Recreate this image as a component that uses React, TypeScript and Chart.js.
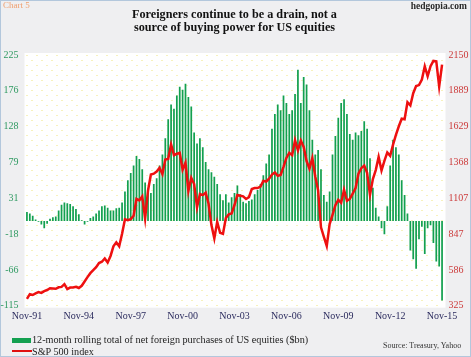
import React, { useEffect, useRef } from 'react';
import { Chart, registerables } from 'chart.js';

Chart.register(...registerables);

// ---- Data ----
const MONTHS = ['Jan', 'Feb', 'Mar', 'Apr', 'May', 'Jun', 'Jul', 'Aug', 'Sep', 'Oct', 'Nov', 'Dec'];
// bi-monthly categories from Nov-91 to Nov-15
const categories: string[] = [];
for (let k = 0; k < 145; k++) {
  const m = 10 + 2 * k;
  const yr = 1991 + Math.floor(m / 12);
  categories.push(`${MONTHS[m % 12]}-${String(yr % 100).padStart(2, '0')}`);
}

const xTickLabels = ['Nov-91', 'Nov-94', 'Nov-97', 'Nov-00', 'Nov-03', 'Nov-06', 'Nov-09', 'Nov-12', 'Nov-15'];

// 12-month rolling total of net foreign purchases of US equities ($bn)
const flows = [
  12, 10, 7, 2, -1, -5, -10, -4, 3, 5, 6, 14,
  22, 25, 24, 23, 20, 16, 9, 1, -5, -1, 4, 6,
  10, 14, 20, 21, 18, 14, 14, 17, 18, 25, 40, 55,
  65, 75, 88, 84, 70, 52, 43, 38, 50, 58, 75, 90,
  112, 138, 158, 152, 170, 182, 178, 186, 168, 155, 120, 105,
  112, 100, 80, 70, 66, 60, 50, 36, 28, 36, 25, 32,
  38, 48, 36, 26, 24, 27, 29, 36, 42, 50, 62, 78,
  90, 125, 145, 158, 150, 170, 160, 145, 150, 172, 205, 160,
  195, 185, 150, 110, 90, 96, 70, 35, 26, 40, 90, 115,
  140, 160, 165, 145, 118, 110, 120, 116, 122, 135, 125, 85,
  45, 18, 6, -10, -18, 20, 75, 110, 100, 90, 55, 35,
  10, -40, -52, -65, -25, -8, -45, -10, -6, -30, -55, -62,
  -108,
];

// S&P 500 index
const sp500 = [
  375,
  409, 403, 415, 424, 418, 431,
  439, 452, 450, 448, 459, 462,
  482, 446, 457, 458, 463, 454,
  470, 501, 533, 562, 584, 605,
  636, 645, 669, 640, 687, 757,
  786, 757, 848, 954, 947, 955,
  980, 1102, 1091, 1121, 960, 1164,
  1280, 1286, 1302, 1329, 1283, 1389,
  1394, 1499, 1421, 1431, 1437, 1315,
  1366, 1160, 1256, 1211, 1041, 1139,
  1130, 1147, 1067, 912, 815, 936,
  856, 848, 964, 990, 996, 1058,
  1131, 1126, 1121, 1102, 1115, 1174,
  1181, 1181, 1192, 1234, 1229, 1249,
  1280, 1295, 1270, 1277, 1336, 1401,
  1438, 1421, 1530, 1455, 1527, 1481,
  1378, 1323, 1400, 1267, 1166, 896,
  826, 760, 919, 987, 1057, 1096,
  1074, 1169, 1089, 1102, 1141, 1181,
  1286, 1326, 1345, 1292, 1131, 1247,
  1312, 1408, 1310, 1379, 1441, 1416,
  1498, 1569, 1631, 1686, 1682, 1806,
  1783, 1872, 1924, 1931, 1972, 2068,
  1995, 2068, 2107, 2104, 1920, 2080,
];

const leftTickLabels = ['-115', '-66', '-18', '31', '79', '128', '176', '225'];
const rightTickLabels = ['325', '586', '847', '1107', '1368', '1629', '1889', '2150'];
const LEFT_MIN = -115;
const LEFT_MAX = 225;
const RIGHT_MIN = 325;
const RIGHT_MAX = 2150;

const SERIF = '"Liberation Serif", "Times New Roman", serif';

const plotBg = {
  id: 'plotBg',
  beforeDraw(chart: any) {
    const { ctx, chartArea } = chart;
    const l = chartArea.left - 1;
    const t = chartArea.top - 2;
    const r = chartArea.right + 2;
    const b = chartArea.bottom + 2;
    ctx.save();
    ctx.fillStyle = '#ffffff';
    ctx.fillRect(l, t, r - l, b - t);
    ctx.fillStyle = '#efe57a';
    let row = 0;
    for (let y = t + 2; y < b; y += 5, row++) {
      for (let x = l + 2 + (row % 2) * 5; x < r; x += 10) {
        ctx.fillRect(x, y, 1, 1);
      }
    }
    ctx.restore();
  },
};

function evenTicks(min: number, max: number, n: number) {
  return Array.from({ length: n }, (_, k) => ({ value: min + (k * (max - min)) / (n - 1) }));
}

export default function App() {
  const ref = useRef<HTMLCanvasElement | null>(null);

  useEffect(() => {
    if (!ref.current) return;
    const chart = new Chart(ref.current, {
      type: 'bar',
      data: {
        labels: categories,
        datasets: [
          {
            type: 'line',
            label: 'S&P 500 index',
            data: sp500,
            yAxisID: 'y1',
            borderColor: '#ee1010',
            borderWidth: 2.5,
            pointRadius: 0,
            tension: 0,
            order: 0,
          } as any,
          {
            type: 'bar',
            label: '12-month rolling total of net foreign purchases of US equities ($bn)',
            data: flows,
            yAxisID: 'y',
            backgroundColor: '#13a050',
            borderWidth: 0,
            barPercentage: 0.6,
            categoryPercentage: 1,
            order: 1,
          },
        ],
      },
      options: {
        responsive: false,
        devicePixelRatio: 1,
        animation: false,
        layout: { padding: { top: 55, bottom: 0, left: 0, right: 0 } },
        plugins: { legend: { display: false }, tooltip: { enabled: false }, title: { display: false } },
        scales: {
          x: {
            type: 'category',
            offset: true,
            grid: { display: false, drawTicks: false },
            border: { display: false },
            ticks: {
              autoSkip: false,
              maxRotation: 0,
              minRotation: 0,
              padding: 5,
              color: '#2b2b5e',
              font: { family: SERIF, size: 10 },
              callback: (_v: any, idx: number) => {
                const lab = categories[idx];
                return xTickLabels.includes(lab) ? lab : null;
              },
            },
            afterFit: (scale: any) => {
              scale.height = 51.3;
            },
          },
          y: {
            position: 'left',
            min: LEFT_MIN,
            max: LEFT_MAX,
            grid: { display: false, drawTicks: false },
            border: { display: false },
            afterBuildTicks: (scale: any) => {
              scale.ticks = evenTicks(LEFT_MIN, LEFT_MAX, leftTickLabels.length);
            },
            ticks: {
              padding: 7,
              color: '#2f9a62',
              font: { family: SERIF, size: 10 },
              callback: (_v: any, idx: number) => leftTickLabels[idx],
            },
            afterFit: (scale: any) => {
              scale.width = 25.5;
            },
          },
          y1: {
            position: 'right',
            min: RIGHT_MIN,
            max: RIGHT_MAX,
            grid: { display: false, drawTicks: false },
            border: { display: false },
            afterBuildTicks: (scale: any) => {
              scale.ticks = evenTicks(RIGHT_MIN, RIGHT_MAX, rightTickLabels.length);
            },
            ticks: {
              padding: 5,
              color: '#cc3a3a',
              font: { family: SERIF, size: 10 },
              callback: (_v: any, idx: number) => rightTickLabels[idx],
            },
            afterFit: (scale: any) => {
              scale.width = 27.5;
            },
          },
        },
      } as any,
      plugins: [plotBg],
    });
    return () => chart.destroy();
  }, []);

  const abs: React.CSSProperties = { position: 'absolute', fontFamily: SERIF, whiteSpace: 'nowrap', pointerEvents: 'none' };

  return (
    <div
      style={{
        position: 'absolute',
        left: 0,
        top: 0,
        width: 471,
        height: 357,
        background: '#efeff1',
        boxShadow: 'inset 0 0 0 1px #b3c7dc',
        overflow: 'hidden',
      }}
    >
      <canvas ref={ref} width={471} height={357} style={{ position: 'absolute', left: 0, top: 0, width: 471, height: 357 }} />
      <div style={{ ...abs, left: 3, top: 0, fontSize: 9, lineHeight: '11px', color: '#f0a070' }}>Chart 5</div>
      <div style={{ ...abs, right: 4, top: 0, fontSize: 9.5, lineHeight: '12px', fontWeight: 'bold', color: '#2a2a2a' }}>hedgopia.com</div>
      <div
        style={{
          ...abs,
          left: 0,
          width: 469,
          top: 7.5,
          textAlign: 'center',
          fontSize: 12.2,
          lineHeight: '13.6px',
          fontWeight: 'bold',
          color: '#111',
        }}
      >
        Foreigners continue to be a drain, not a
        <br />
        source of buying power for US equities
      </div>
      <div style={{ position: 'absolute', left: 12, top: 337.5, width: 19, height: 5, background: '#13a050' }} />
      <div style={{ ...abs, left: 32, top: 334, fontSize: 10.2, lineHeight: '12px', color: '#222' }}>
        12-month rolling total of net foreign purchases of US equities ($bn)
      </div>
      <div style={{ position: 'absolute', left: 12, top: 350, width: 20, height: 2, background: '#e01010' }} />
      <div style={{ ...abs, left: 32, top: 345.5, fontSize: 10.2, lineHeight: '12px', color: '#222' }}>S&amp;P 500 index</div>
      <div style={{ ...abs, left: 383, top: 341, fontSize: 8, lineHeight: '10px', color: '#333' }}>Source: Treasury, Yahoo</div>
    </div>
  );
}
